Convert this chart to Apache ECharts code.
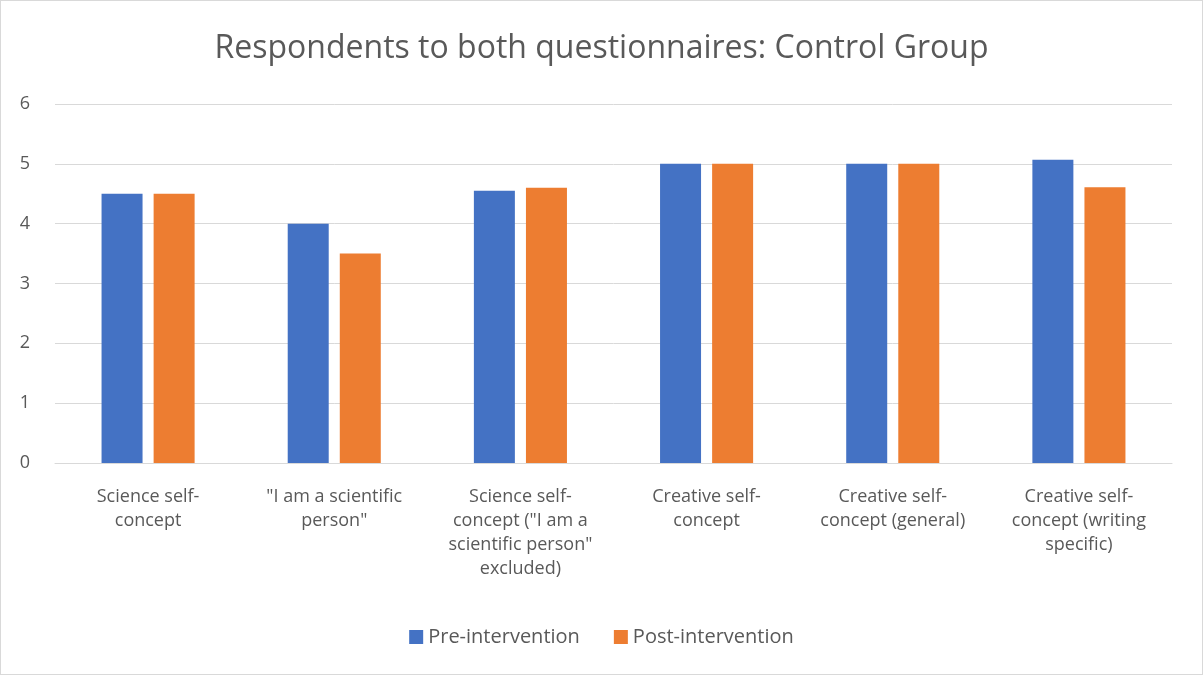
<!DOCTYPE html>
<html>
<head>
<meta charset="utf-8">
<script src="https://cdn.jsdelivr.net/npm/echarts@6/dist/echarts.min.js"></script>
<style>
  html, body { margin: 0; padding: 0; background: #fff; }
  #chart { width: 1203px; height: 675px; box-sizing: border-box; border: 1px solid #d9d9d9; }
</style>
</head>
<body>
<div id="chart"></div>
<script>
// Category labels (line breaks as wrapped in the chart)
const categories = [
  'Science self-\nconcept',
  '"I am a scientific\nperson"',
  'Science self-\nconcept ("I am a\nscientific person"\nexcluded)',
  'Creative self-\nconcept',
  'Creative self-\nconcept (general)',
  'Creative self-\nconcept (writing\nspecific)'
];
const preIntervention = [4.5, 4.0, 4.55, 5.0, 5.0, 5.07];
const postIntervention = [4.5, 3.5, 4.6, 5.0, 5.0, 4.61];
const yTicks = [0, 1, 2, 3, 4, 5, 6];

const fontFamily = 'Open Sans, Lato, sans-serif';
const chart = echarts.init(document.getElementById('chart'));
chart.setOption({
  animation: false,
  textStyle: { fontFamily: fontFamily },
  title: {
    text: 'Respondents to both questionnaires: Control Group',
    left: 'center',
    top: 27,
    textStyle: { fontSize: 32, fontWeight: 'normal', color: '#595959', fontFamily: fontFamily }
  },
  legend: {
    bottom: 22,
    left: 'center',
    itemWidth: 14,
    itemHeight: 14,
    itemGap: 34,
    icon: 'rect',
    textStyle: { fontSize: 20, color: '#595959', fontFamily: fontFamily },
    data: ['Pre-intervention', 'Post-intervention']
  },
  grid: { left: 54, right: 30, top: 103, bottom: 211, containLabel: false },
  xAxis: {
    type: 'category',
    data: categories,
    axisLine: { show: true, lineStyle: { color: '#d9d9d9', width: 1 } },
    axisTick: { show: false },
    axisLabel: {
      interval: 0,
      color: '#595959',
      fontSize: 18,
      lineHeight: 24,
      margin: 22,
      fontFamily: fontFamily
    }
  },
  yAxis: {
    type: 'value',
    min: yTicks[0],
    max: yTicks[yTicks.length - 1],
    interval: 1,
    axisLine: { show: false },
    axisTick: { show: false },
    axisLabel: { color: '#595959', fontSize: 18, margin: 25, fontFamily: fontFamily },
    splitLine: { lineStyle: { color: '#d9d9d9', width: 1 } }
  },
  series: [
    {
      name: 'Pre-intervention',
      type: 'bar',
      data: preIntervention,
      itemStyle: { color: '#4472c4' },
      barWidth: 41,
      barGap: '27%'
    },
    {
      name: 'Post-intervention',
      type: 'bar',
      data: postIntervention,
      itemStyle: { color: '#ed7d31' },
      barWidth: 41,
      barGap: '27%'
    }
  ]
});
</script>
</body>
</html>
